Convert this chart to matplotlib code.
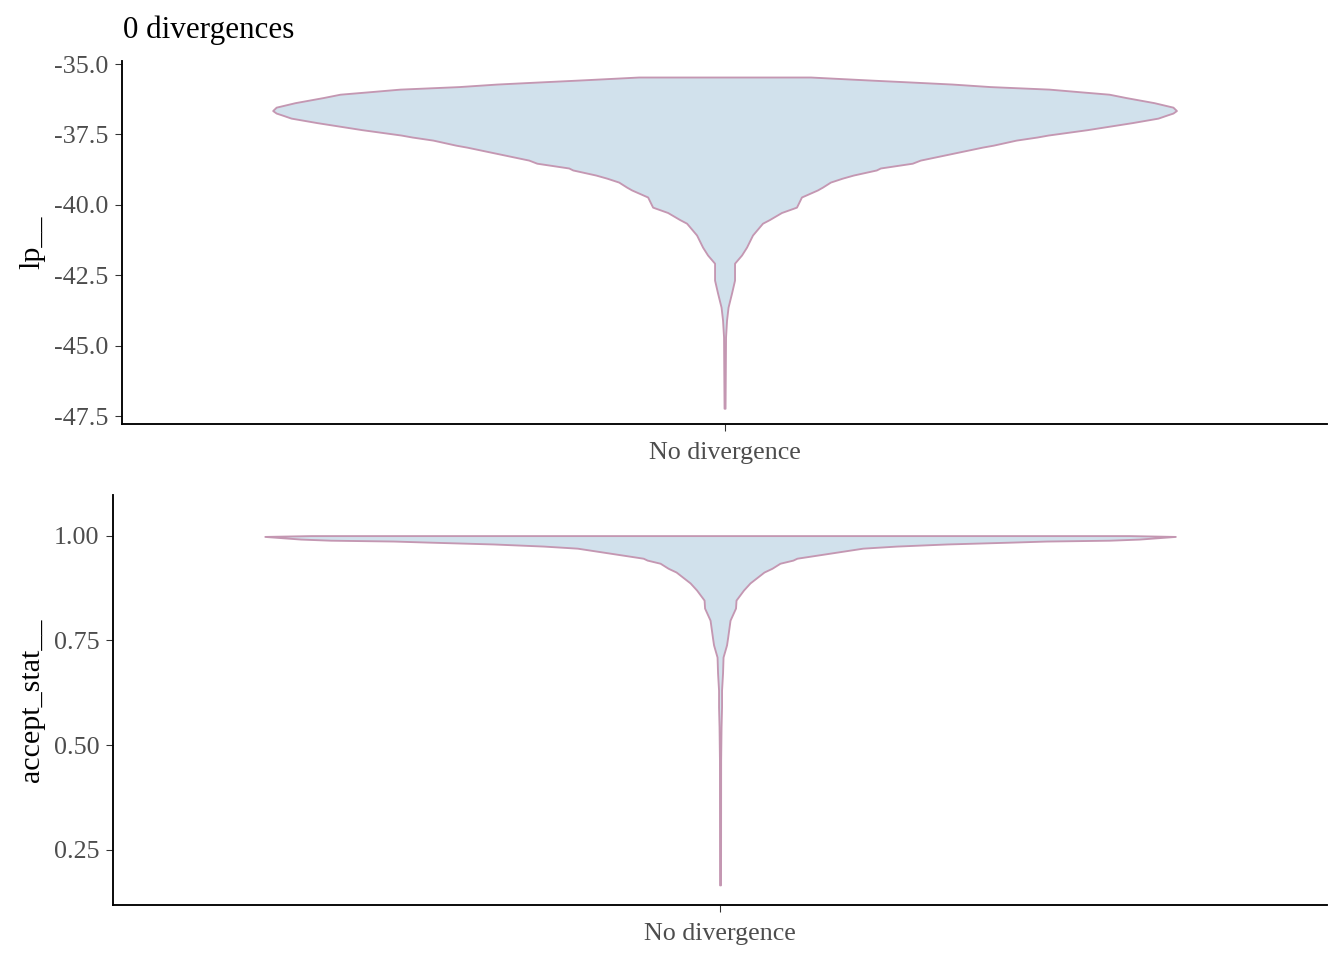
import numpy as np
import matplotlib
matplotlib.use("Agg")
import matplotlib.pyplot as plt

plt.rcParams['font.family'] = ['Liberation Serif', 'DejaVu Serif']

# violin outlines: value -> relative density (1 = widest)
lp_values = [-35.46, -35.50, -35.57, -35.64, -35.71, -35.80, -35.89, -35.99, -36.07,
             -36.19, -36.37, -36.53, -36.65, -36.74, -36.81, -36.92, -37.08, -37.33,
             -37.52, -37.59, -37.70, -37.88, -37.95, -38.18, -38.41, -38.52, -38.69,
             -38.76, -38.94, -39.05, -39.19, -39.37, -39.47, -39.72, -40.01, -40.08,
             -40.27, -40.52, -40.65, -41.07, -41.50, -41.78, -42.07, -42.67, -43.13,
             -43.63, -44.09, -44.69, -45.76, -47.22]
lp_width = [86, 108, 147, 188, 228, 266, 325, 358, 385,
            402, 430, 449, 452.5, 449, 443, 434, 408, 363,
            324, 313, 292, 269, 258, 227, 196, 188, 156,
            152, 129, 118, 106, 98, 93, 77, 73, 72,
            57, 45, 38, 28, 22, 17, 10, 10, 7,
            3.5, 2, 1, 0.8, 0.5]

acc_values = [1.000, 0.998, 0.9917, 0.989, 0.987, 0.9845, 0.980, 0.975, 0.970, 0.958,
              0.946, 0.9415, 0.934, 0.922, 0.913, 0.887, 0.870, 0.846, 0.827, 0.798,
              0.755, 0.739, 0.710, 0.672, 0.631, 0.591, 0.543, 0.464, 0.166]
acc_width = [410, 456, 420, 390, 327, 293, 227, 177, 143, 110,
             77, 73, 60, 52, 44, 30, 23.5, 16, 15.5, 10,
             7.5, 6.5, 3, 2.5, 1.5, 1.5, 1, 0.6, 0.5]

category = "No divergence"
title = "0 divergences"

fill_col = "#d1e1ec"
line_col = "#c497b2"
tick_col = "#4d4d4d"

fig = plt.figure(figsize=(14, 10), dpi=96)
ax1 = fig.add_axes([0.0908, 0.5583, 0.8966, 0.3782])
ax2 = fig.add_axes([0.0841, 0.0573, 0.9033, 0.4271])


def violin(ax, vals, widths, ylim, yticks, ylabels):
    vals = np.array(vals)
    w = np.array(widths) / max(widths) * 0.45
    ax.fill_betweenx(vals, 1 - w, 1 + w, facecolor=fill_col, edgecolor=line_col, linewidth=1.4)
    ax.set_xlim(0.4, 1.6)
    ax.set_ylim(*ylim)
    ax.set_xticks([1])
    ax.set_xticklabels([category])
    ax.set_yticks(yticks)
    ax.set_yticklabels(ylabels)
    for s in ["top", "right"]:
        ax.spines[s].set_visible(False)
    for s in ["left", "bottom"]:
        ax.spines[s].set_linewidth(1.4)
    ax.tick_params(axis="both", length=5.25, width=0.8, color="#333333",
                   labelcolor=tick_col, labelsize=19.5)
    ax.tick_params(axis="y", pad=5)
    ax.tick_params(axis="x", pad=8)


violin(ax1, lp_values, lp_width, (-47.78, -34.89),
       [-35.0, -37.5, -40.0, -42.5, -45.0, -47.5],
       ["-35.0", "-37.5", "-40.0", "-42.5", "-45.0", "-47.5"])
violin(ax2, acc_values, acc_width, (0.118, 1.097),
       [0.25, 0.50, 0.75, 1.00], ["0.25", "0.50", "0.75", "1.00"])

fig.text(123 / 1344, 1 - 38 / 960, title, fontsize=23.3, ha="left", va="baseline")
fig.text(32 / 1344, 1 - 242 / 960, "lp__", fontsize=22.5, rotation=90, ha="center", va="center")
fig.text(32 / 1344, 1 - 700 / 960, "accept_stat__", fontsize=22.5, rotation=90, ha="center", va="center")

fig.savefig("out.png", dpi=96)
